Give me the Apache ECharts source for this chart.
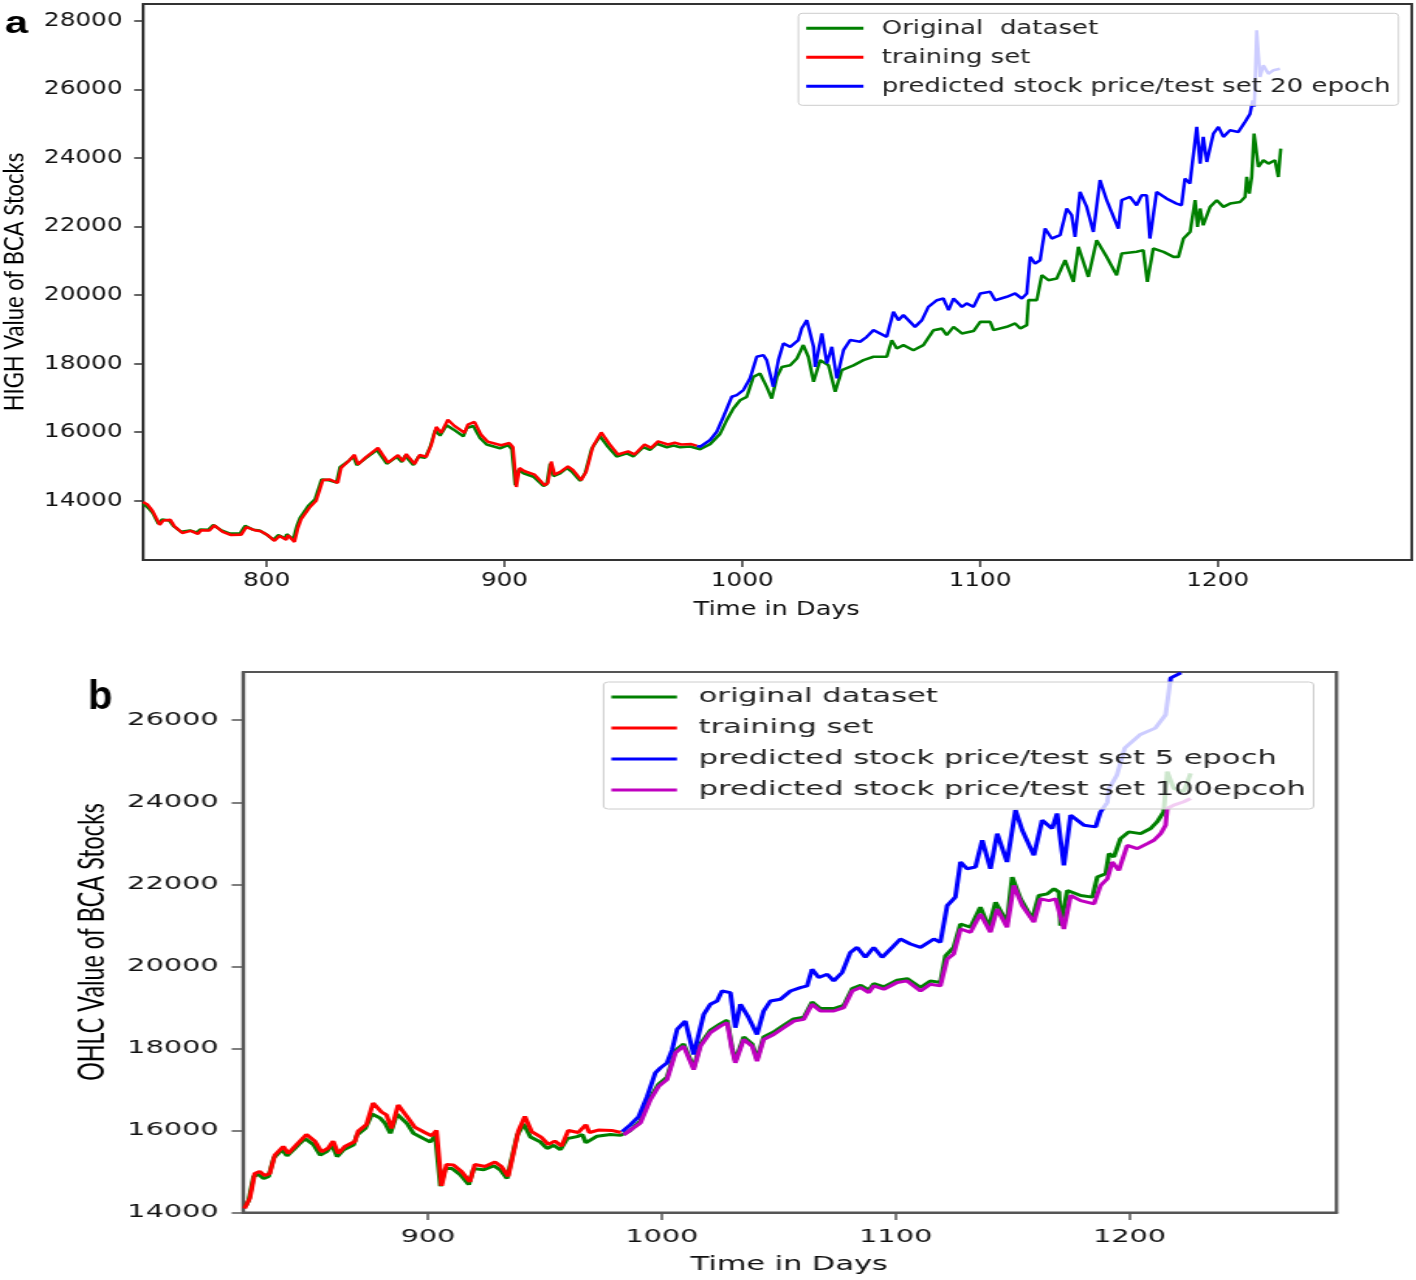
<!DOCTYPE html>
<html><head><meta charset="utf-8">
<script src="https://cdn.jsdelivr.net/npm/echarts@6/dist/echarts.min.js"></script>
<style>
html,body{margin:0;padding:0;background:#fff;width:1416px;height:1280px;overflow:hidden}
.panel{position:absolute;left:0;transform-origin:0 0}
</style></head><body>
<div id="pa" class="panel"></div>
<div id="pb" class="panel"></div>
<script>
// ---------------- DATA (day, value) ----------------
const aXTicks = [800, 900, 1000, 1100, 1200];
const aYTicks = [14000, 16000, 18000, 20000, 22000, 24000, 26000, 28000];
const bXTicks = [900, 1000, 1100, 1200];
const bYTicks = [14000, 16000, 18000, 20000, 22000, 24000, 26000];

const aNames = ['Original  dataset', 'training set', 'predicted stock price/test set 20 epoch'];
const bNames = ['original dataset', 'training set', 'predicted stock price/test set 5 epoch', 'predicted stock price/test set 100epcoh'];

const aOriginal = [[748,13920],[750,13800],[752,13650],[754.4,13330],[756,13450],[759,13420],[760.7,13270],[764,13090],[767.7,13130],[770.5,13070],[772,13160],[775.4,13150],[777.5,13290],[781,13130],[784.6,13040],[788.8,13050],[790.9,13270],[794.4,13150],[797,13130],[800,13010],[802.8,12860],[804.9,13000],[807.7,12900],[808.4,13020],[811.2,12870],[812.6,13250],[814,13500],[817.5,13850],[820.3,14040],[823.1,14620],[825.9,14600],[829.4,14530],[830.8,14980],[834.3,15150],[836.4,15290],[837.9,15040],[841.4,15230],[846.3,15480],[850.5,15080],[854.7,15280],[856.8,15130],[858.2,15310],[861.7,15040],[863.8,15280],[866.6,15250],[868.7,15560],[870.8,16050],[872.9,15900],[875.7,16200],[878.5,16080],[882.7,15880],[884.1,16120],[886.9,16180],[889.7,15830],[892.5,15640],[898.1,15530],[901.6,15620],[903.1,15500],[904.5,14450],[905.8,14900],[908,14800],[912.2,14700],[916.4,14430],[917.8,14480],[919.2,15080],[920.6,14720],[923.4,14800],[926.2,14950],[928.3,14850],[931.8,14580],[933.9,14800],[936.7,15520],[940.2,15880],[943.7,15560],[947.2,15290],[951.5,15380],[954.2,15290],[958.4,15560],[961.2,15480],[964.1,15660],[968.3,15560],[971.1,15610],[973.9,15560],[978.1,15580],[982.3,15500],[986.5,15650],[990.7,15950],[993.5,16350],[996.3,16690],[999.1,16930],[1001.9,17030],[1004.7,17610],[1007.5,17710],[1010.3,17320],[1012.4,16980],[1014.6,17610],[1016.7,17900],[1020.2,17950],[1023,18150],[1025.7,18540],[1027.8,18200],[1030,17470],[1032.8,18100],[1036.3,17950],[1039.1,17180],[1041.9,17810],[1046.8,17950],[1051,18100],[1055.2,18200],[1060.8,18200],[1062.9,18680],[1065,18440],[1067.8,18540],[1072,18390],[1076.2,18540],[1080.4,18970],[1084,19020],[1086,18830],[1088.9,19070],[1092.4,18880],[1097.3,18950],[1100.1,19218],[1104.3,19218],[1105.7,18976],[1111.3,19072],[1114.8,19171],[1117,19025],[1119.7,19122],[1120.4,19850],[1123.9,19850],[1126,20579],[1128.8,20433],[1132.3,20483],[1135.8,21017],[1139.3,20384],[1141.4,21404],[1145.6,20530],[1149.1,21600],[1153.3,21113],[1157.5,20579],[1159.6,21212],[1165.9,21260],[1168.7,21310],[1170.4,20384],[1172.9,21357],[1177.2,21260],[1181.4,21113],[1183.5,21113],[1185.6,21649],[1188.4,21842],[1190.5,22766],[1191.5,21987],[1192.6,22523],[1193.9,22037],[1196.8,22571],[1199.6,22766],[1202.4,22571],[1205.2,22668],[1209.4,22716],[1211.5,22862],[1212.2,23445],[1213.3,22960],[1214.3,23445],[1215.3,24710],[1217.1,23737],[1219.2,23932],[1221.3,23835],[1224.1,23932],[1225.5,23445],[1226.5,24273]];

const aTraining = [[748,13960],[750,13880],[752,13700],[755,13300],[756.5,13420],[759.5,13440],[761.2,13250],[764.5,13060],[768,13120],[771,13030],[772.5,13140],[775.9,13130],[778,13280],[781.5,13090],[785,13000],[789.3,13010],[791.4,13230],[794.9,13140],[797.5,13110],[800.5,12990],[803.3,12830],[805.4,12970],[808.2,12860],[808.9,12990],[811.7,12800],[813.1,13200],[814.5,13460],[818,13800],[820.8,14000],[823.6,14600],[826.4,14620],[829.9,14520],[831.3,14960],[834.8,15180],[836.9,15340],[838.4,15060],[841.9,15280],[846.8,15540],[851,15110],[855.2,15330],[857.3,15160],[858.7,15360],[862.2,15070],[864.3,15330],[867.1,15280],[869.2,15620],[871.3,16150],[873.4,15980],[876.2,16360],[879,16180],[883.2,15980],[884.6,16220],[887.4,16300],[890.2,15920],[893,15720],[898.6,15620],[902.1,15680],[903.6,15560],[905,14400],[906.3,14950],[908.5,14860],[912.7,14760],[916.9,14450],[918.3,14520],[919.7,15140],[921.1,14760],[923.9,14860],[926.7,15000],[928.8,14900],[932.3,14600],[934.4,14850],[937.2,15580],[940.7,15990],[944.2,15650],[947.7,15350],[952,15440],[954.7,15350],[958.9,15640],[961.7,15540],[964.6,15730],[968.8,15640],[971.6,15690],[974.4,15640],[978.6,15650],[981,15600]];

const aPredicted20 = [[981,15600],[982.3,15574],[986.5,15770],[989.3,16011],[992.1,16449],[995.6,17032],[997.7,17081],[1000.5,17227],[1003.3,17568],[1006.1,18198],[1008.9,18247],[1010.3,18101],[1013.1,17323],[1015.2,18101],[1017.3,18588],[1020.2,18489],[1023.6,18685],[1025,19025],[1027.2,19267],[1030,18489],[1030.7,17906],[1033.5,18880],[1035.6,18005],[1037.7,18489],[1039.8,17568],[1042.6,18393],[1045.4,18685],[1049.6,18636],[1052.4,18781],[1055.2,18976],[1060.8,18781],[1063.6,19509],[1065.7,19267],[1067.8,19413],[1072.7,19072],[1075.6,19267],[1078.3,19655],[1081.9,19850],[1084.6,19900],[1086.8,19559],[1088.9,19900],[1092.4,19655],[1094.4,19754],[1097.3,19655],[1100.1,20046],[1104.3,20094],[1106.4,19850],[1111.3,19947],[1114.8,20046],[1117.6,19900],[1119.7,20046],[1121.1,21113],[1123.2,20920],[1125.3,21017],[1127.4,21940],[1130.2,21649],[1133.7,21745],[1136.5,22523],[1138.6,22328],[1140,21696],[1142.1,23008],[1144.9,22571],[1147.7,21842],[1150.5,23350],[1153.3,22766],[1158.2,21940],[1159.6,22766],[1163.1,22862],[1165.9,22620],[1168,22911],[1170.1,22911],[1171.5,21649],[1174.3,23008],[1178.5,22814],[1182.7,22668],[1184.8,22620],[1186.2,23398],[1188.3,23252],[1191.2,24905],[1192.6,23835],[1193.9,24613],[1195.4,23883],[1198.2,24710],[1200.3,24905],[1202.4,24613],[1205.2,24807],[1208.7,24759],[1211.5,25052],[1213.6,25285],[1214.7,25674],[1215.4,25500],[1216.4,27721],[1217.8,26360],[1219.2,26700],[1221.3,26458],[1223.4,26555],[1226.2,26604]];

const bOriginal = [[821.9,14137],[823.3,14300],[825.4,14880],[827.5,14930],[829.7,14830],[831.8,14880],[834,15330],[837.6,15530],[839.7,15380],[842.5,15530],[845.4,15700],[847.5,15800],[851.1,15650],[853.9,15400],[856.8,15490],[858.9,15650],[861.1,15360],[863.9,15530],[868.2,15650],[869.6,15890],[873.2,16050],[876,16400],[879.6,16300],[881.7,16170],[883.9,15930],[886.7,16400],[891,16170],[893.8,15930],[898.1,15800],[901,15720],[903.1,15880],[905.3,14640],[907.4,15070],[910.3,15070],[913.8,14920],[917.4,14680],[919.5,15070],[923.8,15040],[928.1,15140],[930.9,15040],[933.8,14830],[938.1,15880],[940.9,16160],[943.8,15840],[948,15720],[950.9,15560],[953.7,15640],[956.6,15530],[959.5,15800],[963.7,15850],[966,15900],[967.5,15700],[972.3,15860],[978,15900],[982.3,15880],[986,15980],[990.8,16230],[995.1,16800],[998.6,17130],[1002.2,17300],[1005.8,17950],[1009.3,18110],[1013.6,17530],[1016.5,18110],[1020.7,18440],[1025,18600],[1027.9,18690],[1030,18030],[1031.4,17700],[1035,18280],[1038.6,18110],[1040.7,17740],[1043.5,18280],[1047.8,18400],[1052.1,18560],[1056.4,18720],[1060.7,18760],[1064.2,19130],[1067.8,18970],[1073.5,18970],[1077.8,19050],[1081.4,19460],[1085,19540],[1088.5,19420],[1090.6,19580],[1094.9,19500],[1100.6,19660],[1104.9,19700],[1110.6,19483],[1114.8,19645],[1119.1,19606],[1121.3,20257],[1124.8,20463],[1127.7,21033],[1132,20953],[1136.2,21442],[1139.8,20953],[1142.7,21564],[1147.6,21075],[1149.8,22176],[1153.4,21645],[1158.4,21156],[1161.2,21726],[1164.8,21767],[1167.7,21890],[1169.8,21809],[1170.5,20992],[1173.4,21849],[1179.1,21726],[1184.1,21687],[1186.2,22176],[1189.8,22257],[1191.2,22747],[1193.3,22666],[1196.1,23114],[1199.7,23278],[1204.7,23236],[1209,23359],[1211.8,23523],[1214.6,23767],[1216.1,24747],[1218.9,24338],[1223.2,24257],[1226.1,24705]];

const bTraining = [[821.5,14100],[823.8,14350],[825.9,14950],[828,15000],[830.2,14900],[832.3,14950],[834.5,15400],[838.1,15610],[840.2,15440],[843,15610],[845.9,15780],[848,15900],[851.6,15740],[854.4,15480],[857.3,15570],[859.4,15740],[861.6,15440],[864.4,15610],[868.7,15730],[870.1,15980],[873.7,16150],[876.5,16670],[880.1,16450],[882.2,16380],[884.4,16050],[887.2,16620],[891.5,16300],[894.3,16080],[898.6,15950],[901.5,15870],[903.6,16000],[905.8,14650],[907.9,15170],[910.8,15160],[914.3,15000],[917.9,14750],[920,15170],[924.3,15120],[928.6,15230],[931.4,15120],[934.3,14880],[938.6,15980],[941.4,16340],[944.3,15970],[948.5,15830],[951.4,15660],[954.2,15740],[957.1,15620],[960,16000],[964.2,15950],[967.5,16140],[969,15950],[972.8,16010],[978.5,16000],[982.5,15950]];

const bPredicted5 = [[983,15973],[986.5,16137],[990.1,16340],[993.7,16830],[997.2,17403],[999.4,17525],[1002.2,17648],[1004.4,17973],[1006.5,18463],[1010,18666],[1013.6,17851],[1017.9,18830],[1020.7,19075],[1023.6,19155],[1025.7,19400],[1029.3,19361],[1031.4,18504],[1033.6,19075],[1037.1,18749],[1040.7,18340],[1043.5,18911],[1046.4,19155],[1050.7,19197],[1055,19400],[1059.2,19483],[1062.1,19523],[1064.2,19931],[1067.1,19728],[1070.7,19809],[1073.5,19645],[1077.1,19851],[1080.6,20340],[1083.5,20463],[1087,20218],[1090.6,20463],[1094.2,20218],[1098.5,20463],[1102,20666],[1106.3,20544],[1110.6,20463],[1116.3,20666],[1119.1,20585],[1122,21481],[1125.5,21687],[1127.7,22544],[1130.5,22380],[1134.1,22421],[1137,23073],[1140.5,22380],[1143.4,23236],[1147.6,22544],[1151.2,23807],[1154.1,23317],[1159.1,22705],[1162.6,23562],[1166.9,23359],[1169,23726],[1171.9,22461],[1174.8,23684],[1180.5,23440],[1185.5,23400],[1187.6,23767],[1190.5,24000],[1191.3,24338],[1194.6,24664],[1197.9,25317],[1204.4,25643],[1211,25807],[1215.4,26133],[1217.6,27031],[1222,27153]];

const bPredicted100 = [[983.7,15892],[990.8,16179],[995.1,16749],[998.6,17075],[1002.2,17239],[1005.8,17893],[1009.3,18054],[1013.6,17483],[1016.5,18054],[1020.7,18382],[1025,18544],[1027.9,18627],[1030,17973],[1031.4,17648],[1035,18218],[1038.6,18054],[1040.7,17687],[1043.5,18218],[1047.8,18340],[1052.1,18504],[1056.4,18666],[1060.7,18708],[1064.2,19075],[1067.8,18911],[1073.5,18911],[1077.8,18994],[1081.4,19400],[1085,19483],[1088.5,19361],[1090.6,19523],[1094.9,19442],[1100.6,19606],[1104.9,19645],[1110.6,19400],[1114.8,19564],[1119.1,19523],[1122,20176],[1124.8,20299],[1127.7,20911],[1132,20830],[1136.2,21278],[1140.5,20830],[1143.4,21400],[1147.6,20953],[1150.5,21971],[1154.1,21481],[1159.1,21075],[1161.9,21645],[1165.5,21603],[1168.4,21645],[1171.9,20911],[1174.8,21726],[1179.1,21603],[1184.8,21523],[1187.6,21971],[1190.5,22135],[1192.6,22544],[1195.4,22338],[1199,22950],[1203.3,22869],[1207.6,22991],[1210.4,23073],[1213.3,23236],[1215.4,23440],[1216.1,23848],[1218.9,23929],[1223.2,24012],[1226.1,24093]];

// ---------------- LAYOUT ----------------
const SA = 1.3, SB = 1.55;   // horizontal stretch of each panel (the reference image is stretched)

function setup(id, S, top, h) {
  const el = document.getElementById(id);
  el.style.top = top + 'px';
  el.style.width = (1416 / S) + 'px';
  el.style.height = h + 'px';
  el.style.transform = 'scaleX(' + S + ')';
  return echarts.init(el, null, { renderer: 'canvas' });
}
const fmt = v => String(v);
function lineSeries(name, data, color, w) {
  return { type: 'line', name: name, data: data, color: color, showSymbol: false, symbol: 'none',
    lineStyle: { color: color, width: w }, emphasis: { disabled: true }, clip: true, animation: false };
}

const chartA = setup('pa', SA, 0, 640);
chartA.setOption({
  animation: false,
  grid: { left: 143.3 / SA, top: 4, width: 1268.4 / SA, height: 556, show: true,
          borderColor: '#333', borderWidth: 2, backgroundColor: 'transparent' },
  xAxis: { type: 'value', min: 748.1, max: 1281.6,
    axisLine: { show: true, lineStyle: { color: '#333', width: 2 } },
    axisTick: { show: true, length: 7, customValues: aXTicks, lineStyle: { color: '#333', width: 1.5 } },
    axisLabel: { customValues: aXTicks, margin: 12, fontFamily: 'DejaVu Sans', fontSize: 19, color: '#111', formatter: fmt },
    splitLine: { show: false } },
  yAxis: { type: 'value', min: 12270, max: 28490,
    axisLine: { show: true, lineStyle: { color: '#333', width: 2 } },
    axisTick: { show: true, length: 7, customValues: aYTicks, lineStyle: { color: '#333', width: 1.5 } },
    axisLabel: { customValues: aYTicks, margin: 16, fontFamily: 'DejaVu Sans', fontSize: 19, color: '#111', formatter: fmt },
    splitLine: { show: false } },
  legend: { orient: 'vertical', left: 798.4 / SA, top: 13.3, padding: [4, 6, 8, 6], itemGap: 7,
    itemWidth: 57.2 / SA, itemHeight: 3, icon: 'rect', backgroundColor: 'rgba(255,255,255,0.8)',
    borderColor: '#ccc', borderWidth: 1, borderRadius: 3, selectedMode: false, z: 10,
    textStyle: { fontFamily: 'DejaVu Sans', fontSize: 20, lineHeight: 22, color: '#222', padding: [0, 0, 0, 9] },
    data: aNames },
  graphic: [
    { type: 'text', x: 3.8, y: 24, style: { text: 'a', fontFamily: 'Liberation Sans', fontWeight: 'bold', fontSize: 32, fill: '#000', align: 'left', verticalAlign: 'middle' } },
    { type: 'text', x: 13.7 / SA, y: 282, rotation: Math.PI / 2, style: { text: 'HIGH Value of BCA Stocks', fontFamily: 'Lato', fontSize: 22, fill: '#000', align: 'center', verticalAlign: 'middle' } },
    { type: 'text', x: 776.7 / SA, y: 609.5, style: { text: 'Time in Days', fontFamily: 'DejaVu Sans', fontSize: 19.7, fill: '#111', align: 'center', verticalAlign: 'middle' } }
  ],
  series: [
    lineSeries(aNames[0], aOriginal, '#008000', 2.6),
    lineSeries(aNames[1], aTraining, '#ff0000', 2.6),
    lineSeries(aNames[2], aPredicted20, '#0000ff', 2.6)
  ]
});

const chartB = setup('pb', SB, 640, 640);
chartB.setOption({
  animation: false,
  grid: { left: 243.3 / SB, top: 32, width: 1093.2 / SB, height: 540.5, show: true,
          borderColor: '#555', borderWidth: 2.2, backgroundColor: 'transparent' },
  xAxis: { type: 'value', min: 821, max: 1288.5,
    axisLine: { show: true, lineStyle: { color: '#555', width: 2.2 } },
    axisTick: { show: true, length: 7.5, customValues: bXTicks, lineStyle: { color: '#555', width: 1.5 } },
    axisLabel: { customValues: bXTicks, margin: 15, fontFamily: 'DejaVu Sans', fontSize: 18.5, color: '#111', formatter: fmt },
    splitLine: { show: false } },
  yAxis: { type: 'value', min: 14000, max: 27175,
    axisLine: { show: true, lineStyle: { color: '#555', width: 2.2 } },
    axisTick: { show: true, length: 7.5, customValues: bYTicks, lineStyle: { color: '#555', width: 1.5 } },
    axisLabel: { customValues: bYTicks, margin: 16, fontFamily: 'DejaVu Sans', fontSize: 18.5, color: '#111', formatter: fmt },
    splitLine: { show: false } },
  legend: { orient: 'vertical', left: 603.6 / SB, top: 42, padding: [3, 5, 7, 5], itemGap: 7,
    itemWidth: 65.6 / SB, itemHeight: 3, icon: 'rect', backgroundColor: 'rgba(255,255,255,0.8)',
    borderColor: '#ccc', borderWidth: 1, borderRadius: 3, selectedMode: false, z: 10,
    textStyle: { fontFamily: 'DejaVu Sans', fontSize: 19.7, lineHeight: 24, color: '#222', padding: [0, 0, 0, 9] },
    data: bNames },
  graphic: [
    { type: 'text', x: 88 / SB, y: 58, scaleX: 1 / SB, style: { text: 'b', fontFamily: 'Liberation Sans', fontWeight: 'bold', fontSize: 40, fill: '#000', align: 'left', verticalAlign: 'middle' } },
    { type: 'text', x: 92.8 / SB, y: 302, rotation: Math.PI / 2, style: { text: 'OHLC Value of BCA Stocks', fontFamily: 'Lato', fontSize: 23.3, fill: '#000', align: 'center', verticalAlign: 'middle' } },
    { type: 'text', x: 789.2 / SB, y: 625, style: { text: 'Time in Days', fontFamily: 'DejaVu Sans', fontSize: 19.6, fill: '#111', align: 'center', verticalAlign: 'middle' } }
  ],
  series: [
    lineSeries(bNames[0], bOriginal, '#008000', 3),
    lineSeries(bNames[1], bTraining, '#ff0000', 3),
    lineSeries(bNames[2], bPredicted5, '#0000ff', 3),
    lineSeries(bNames[3], bPredicted100, '#bf00bf', 3)
  ]
});
</script>
</body></html>
